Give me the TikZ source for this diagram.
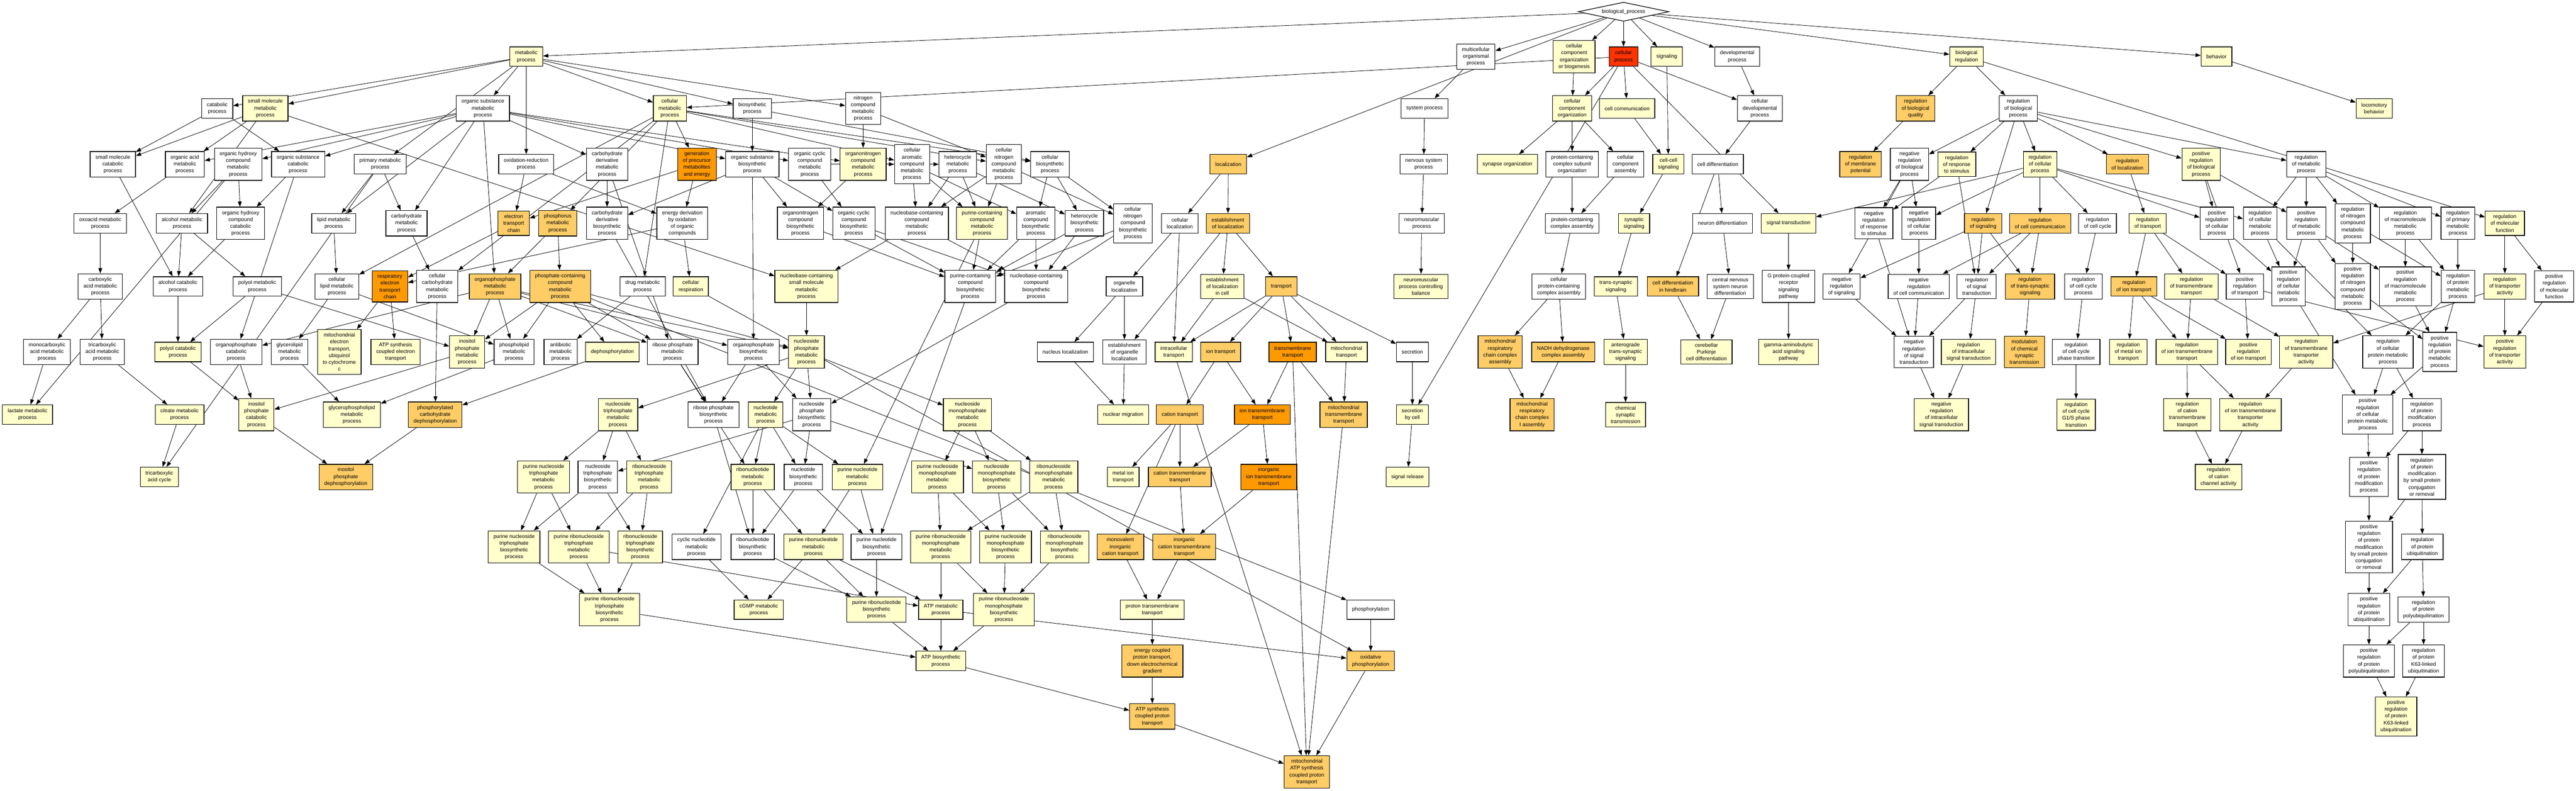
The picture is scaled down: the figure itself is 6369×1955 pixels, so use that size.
\documentclass[tikz,border=0pt]{standalone}
\usepackage{fontspec}
\setmainfont{Liberation Sans}
\usepackage{tikz}
\usetikzlibrary{arrows.meta, shapes.geometric}
\definecolor{GOYellow}{HTML}{FFFFCC}
\definecolor{GOLightOrange}{HTML}{FFCC66}
\definecolor{GOOrange}{HTML}{FF9900}
\definecolor{GORed}{HTML}{FF3300}
\newcommand{\termfont}{\fontsize{3.7pt}{4.8pt}\selectfont}
\tikzstyle{term} = [draw, fill=white, line width=0.45pt, align=center, font=\termfont, inner xsep=3.7pt, inner ysep=2.4pt, minimum height=13.7pt]
\tikzstyle{yel} = [term, fill=GOYellow]
\tikzstyle{lor} = [term, fill=GOLightOrange]
\tikzstyle{ora} = [term, fill=GOOrange]
\tikzstyle{hot} = [term, fill=GORed]
\tikzstyle{root} = [draw, fill=white, line width=0.45pt, shape=diamond, aspect=4.8, inner sep=0pt, minimum width=63.7pt, minimum height=13.4pt, font=\termfont]
\tikzstyle{isa} = [-{Triangle[length=3.7pt,width=2.7pt]}, line width=0.3pt]
\pgfdeclarelayer{background}
\pgfsetlayers{background,main}

\begin{document}
\begin{tikzpicture}[x=0.01cm, y=-0.01cm]
\useasboundingbox (0,0) rectangle (6369,1955);
% level 0 and 1
\node[root] (bp) at (4014,29) {biological\_process};
\node[yel] (met) at (1301,140) {metabolic\\process};
\node[term] (mop) at (3649,140) {multicellular\\organismal\\process};
\node[yel] (ccob) at (3892,140) {cellular\\component\\organization\\or biogenesis};
\node[hot] (cp) at (4014,140) {cellular\\process};
\node[yel] (sig) at (4121,140) {signaling};
\node[term] (dev) at (4295,140) {developmental\\process};
\node[yel] (breg) at (4862,140) {biological\\regulation};
\node[yel] (beh) at (5480,140) {behavior};
% level 2
\node[term] (cat) at (537,268) {catabolic\\process};
\node[yel] (smm) at (656,268) {small molecule\\metabolic\\process};
\node[term] (osm) at (1194,268) {organic substance\\metabolic\\process};
\node[yel] (cm) at (1656,268) {cellular\\metabolic\\process};
\node[term] (bio) at (1860,268) {biosynthetic\\process};
\node[term] (ncm) at (2134,268) {nitrogen\\compound\\metabolic\\process};
\node[term] (sysp) at (3522,268) {system process};
\node[yel] (cco) at (3887,268) {cellular\\component\\organization};
\node[yel] (ccom) at (4023,268) {cell communication};
\node[term] (cdev) at (4351,268) {cellular\\developmental\\process};
\node[lor] (rbq) at (4736,268) {regulation\\of biological\\quality};
\node[term] (rbp) at (4990,268) {regulation\\of biological\\process};
\node[yel] (loco) at (5870,268) {locomotory\\behavior};
% level 3
\node[term] (smc) at (279,406) {small molecule\\catabolic\\process};
\node[term] (oam) at (457,406) {organic acid\\metabolic\\process};
\node[term] (ohm) at (589,406) {organic hydroxy\\compound\\metabolic\\process};
\node[term] (osc) at (737,406) {organic substance\\catabolic\\process};
\node[term] (pm) at (940,406) {primary metabolic\\process};
\node[term] (redox) at (1301,406) {oxidation-reduction\\process};
\node[term] (cdm) at (1501,406) {carbohydrate\\derivative\\metabolic\\process};
\node[ora] (gpme) at (1723,406) {generation\\of precursor\\metabolites\\and energy};
\node[term] (osb) at (1860,406) {organic substance\\biosynthetic\\process};
\node[term] (occm) at (2002,406) {organic cyclic\\compound\\metabolic\\process};
\node[yel] (onm) at (2134,406) {organonitrogen\\compound\\metabolic\\process};
\node[term] (cacm) at (2255,406) {cellular\\aromatic\\compound\\metabolic\\process};
\node[term] (hcm) at (2368,406) {heterocycle\\metabolic\\process};
\node[term] (cncm) at (2482,406) {cellular\\nitrogen\\compound\\metabolic\\process};
\node[term] (cbp) at (2596,406) {cellular\\biosynthetic\\process};
\node[lor] (loc) at (3037,406) {localization};
\node[term] (nsp) at (3520,406) {nervous system\\process};
\node[yel] (synorg) at (3727,406) {synapse organization};
\node[term] (pcso) at (3887,406) {protein-containing\\complex subunit\\organization};
\node[term] (cca) at (4019,406) {cellular\\component\\assembly};
\node[yel] (ccs) at (4125,406) {cell-cell\\signaling};
\node[term] (cdiff) at (4247,406) {cell differentiation};
\node[lor] (rmp) at (4600,406) {regulation\\of membrane\\potential};
\node[term] (nrbp) at (4721,406) {negative\\regulation\\of biological\\process};
\node[yel] (rrs) at (4838,406) {regulation\\of response\\to stimulus};
\node[yel] (rcp) at (5044,406) {regulation\\of cellular\\process};
\node[lor] (rloc) at (5260,406) {regulation\\of localization};
\node[yel] (prbp) at (5442,406) {positive\\regulation\\of biological\\process};
\node[term] (rmet) at (5702,406) {regulation\\of metabolic\\process};
% level 4
\node[term] (oxo) at (248,552) {oxoacid metabolic\\process};
\node[term] (alm) at (450,552) {alcohol metabolic\\process};
\node[term] (ohc) at (595,552) {organic hydroxy\\compound\\catabolic\\process};
\node[term] (lip) at (825,552) {lipid metabolic\\process};
\node[term] (carb) at (1005,552) {carbohydrate\\metabolic\\process};
\node[lor] (etc) at (1270,552) {electron\\transport\\chain};
\node[lor] (phos) at (1379,552) {phosphorus\\metabolic\\process};
\node[term] (cdb) at (1501,552) {carbohydrate\\derivative\\biosynthetic\\process};
\node[term] (edoc) at (1687,552) {energy derivation\\by oxidation\\of organic\\compounds};
\node[term] (onb) at (1979,552) {organonitrogen\\compound\\biosynthetic\\process};
\node[term] (occb) at (2111,552) {organic cyclic\\compound\\biosynthetic\\process};
\node[term] (nbcm) at (2267,552) {nucleobase-containing\\compound\\metabolic\\process};
\node[yel] (pccm) at (2428,552) {purine-containing\\compound\\metabolic\\process};
\node[term] (acb) at (2561,552) {aromatic\\compound\\biosynthetic\\process};
\node[term] (hcb) at (2681,552) {heterocycle\\biosynthetic\\process};
\node[term] (cncb) at (2801,552) {cellular\\nitrogen\\compound\\biosynthetic\\process};
\node[term] (cloc) at (2917,552) {cellular\\localization};
\node[lor] (eloc) at (3036,552) {establishment\\of localization};
\node[term] (nmp) at (3515,552) {neuromuscular\\process};
\node[term] (pcca) at (3887,552) {protein-containing\\complex assembly};
\node[yel] (synsig) at (4040,552) {synaptic\\signaling};
\node[term] (ndiff) at (4259,552) {neuron differentiation};
\node[yel] (st) at (4422,552) {signal transduction};
\node[term] (nrrs) at (4633,552) {negative\\regulation\\of response\\to stimulus};
\node[term] (nrcp) at (4744,552) {negative\\regulation\\of cellular\\process};
\node[lor] (rsig) at (4903,552) {regulation\\of signaling};
\node[lor] (rcc) at (5044,552) {regulation\\of cell communication};
\node[term] (rccy) at (5186,552) {regulation\\of cell cycle};
\node[yel] (rtr) at (5310,552) {regulation\\of transport};
\node[term] (prcp) at (5481,552) {positive\\regulation\\of cellular\\process};
\node[term] (rcmp) at (5588,552) {regulation\\of cellular\\metabolic\\process};
\node[term] (prmp) at (5702,552) {positive\\regulation\\of metabolic\\process};
\node[term] (rncm) at (5817,552) {regulation\\of nitrogen\\compound\\metabolic\\process};
\node[term] (rmmp) at (5947,552) {regulation\\of macromolecule\\metabolic\\process};
\node[term] (rpmp) at (6077,552) {regulation\\of primary\\metabolic\\process};
\node[yel] (rmf) at (6193,552) {regulation\\of molecular\\function};
% level 5
\node[term] (carbox) at (248,708) {carboxylic\\acid metabolic\\process};
\node[term] (alc) at (440,708) {alcohol catabolic\\process};
\node[term] (polm) at (636,708) {polyol metabolic\\process};
\node[term] (clm) at (833,708) {cellular\\lipid metabolic\\process};
\node[ora] (retc) at (964,708) {respiratory\\electron\\transport\\chain};
\node[term] (ccarb) at (1081,708) {cellular\\carbohydrate\\metabolic\\process};
\node[lor] (opm) at (1224,708) {organophosphate\\metabolic\\process};
\node[lor] (pccmp) at (1385,708) {phosphate-containing\\compound\\metabolic\\process};
\node[term] (drug) at (1589,708) {drug metabolic\\process};
\node[yel] (cresp) at (1708,708) {cellular\\respiration};
\node[yel] (nbsm) at (1994,708) {nucleobase-containing\\small molecule\\metabolic\\process};
\node[term] (pccb) at (2399,708) {purine-containing\\compound\\biosynthetic\\process};
\node[term] (nbcb) at (2562,708) {nucleobase-containing\\compound\\biosynthetic\\process};
\node[term] (oloc) at (2780,708) {organelle\\localization};
\node[yel] (elic) at (3022,708) {establishment\\of localization\\in cell};
\node[lor] (trans) at (3168,708) {transport};
\node[yel] (nmpcb) at (3513,708) {neuromuscular\\process controlling\\balance};
\node[term] (cpcca) at (3854,708) {cellular\\protein-containing\\complex assembly};
\node[yel] (tss) at (3995,708) {trans-synaptic\\signaling};
\node[lor] (cdhb) at (4136,708) {cell differentiation\\in hindbrain};
\node[term] (cnsnd) at (4278,708) {central nervous\\system neuron\\differentiation};
\node[term] (gpcr) at (4422,708) {G protein-coupled\\receptor\\signaling\\pathway};
\node[term] (nrsig) at (4553,708) {negative\\regulation\\of signaling};
\node[term] (nrcc) at (4744,708) {negative\\regulation\\of cell communication};
\node[term] (rst) at (4887,708) {regulation\\of signal\\transduction};
\node[lor] (rtss) at (5019,708) {regulation\\of trans-synaptic\\signaling};
\node[term] (rccp) at (5151,708) {regulation\\of cell cycle\\process};
\node[lor] (rit) at (5276,708) {regulation\\of ion transport};
\node[yel] (rtmt) at (5418,708) {regulation\\of transmembrane\\transport};
\node[term] (prt) at (5550,708) {positive\\regulation\\of transport};
\node[term] (prcmp) at (5658,708) {positive\\regulation\\of cellular\\metabolic\\process};
\node[term] (prncm) at (5817,708) {positive\\regulation\\of nitrogen\\compound\\metabolic\\process};
\node[term] (prmmp) at (5947,708) {positive\\regulation\\of macromolecule\\metabolic\\process};
\node[term] (rpm) at (6077,708) {regulation\\of protein\\metabolic\\process};
\node[yel] (rta) at (6193,708) {regulation\\of transporter\\activity};
\node[term] (prmf) at (6315,708) {positive\\regulation\\of molecular\\function};
% level 6
\node[term] (mono) at (116,870) {monocarboxylic\\acid metabolic\\process};
\node[term] (tri) at (253,870) {tricarboxylic\\acid metabolic\\process};
\node[yel] (polc) at (440,870) {polyol catabolic\\process};
\node[term] (opc) at (584,870) {organophosphate\\catabolic\\process};
\node[term] (glm) at (716,870) {glycerolipid\\metabolic\\process};
\node[yel] (metc) at (839,870) {mitochondrial\\electron\\transport,\\ubiquinol\\to cytochrome\\c};
\node[yel] (atpet) at (978,870) {ATP synthesis\\coupled electron\\transport};
\node[yel] (ipm) at (1155,870) {inositol\\phosphate\\metabolic\\process};
\node[term] (plm) at (1271,870) {phospholipid\\metabolic\\process};
\node[term] (abm) at (1386,870) {antibiotic\\metabolic\\process};
\node[yel] (dephos) at (1514,870) {dephosphorylation};
\node[term] (rpmet) at (1663,870) {ribose phosphate\\metabolic\\process};
\node[term] (opb) at (1863,870) {organophosphate\\biosynthetic\\process};
\node[yel] (npm) at (1994,870) {nucleoside\\phosphate\\metabolic\\process};
\node[term] (nucloc) at (2634,870) {nucleus localization};
\node[term] (eol) at (2780,870) {establishment\\of organelle\\localization};
\node[yel] (ict) at (2902,870) {intracellular\\transport};
\node[lor] (iont) at (3018,870) {ion transport};
\node[ora] (tmt) at (3196,870) {transmembrane\\transport};
\node[yel] (mitt) at (3329,870) {mitochondrial\\transport};
\node[term] (secr) at (3492,870) {secretion};
\node[lor] (mrcca) at (3709,870) {mitochondrial\\respiratory\\chain complex\\assembly};
\node[lor] (nadh) at (3865,870) {NADH dehydrogenase\\complex assembly};
\node[yel] (ats) at (4019,870) {anterograde\\trans-synaptic\\signaling};
\node[yel] (cpcd) at (4219,870) {cerebellar\\Purkinje\\cell differentiation};
\node[yel] (gaba) at (4422,870) {gamma-aminobutyric\\acid signaling\\pathway};
\node[term] (nrst) at (4732,870) {negative\\regulation\\of signal\\transduction};
\node[yel] (rist) at (4867,870) {regulation\\of intracellular\\signal transduction};
\node[lor] (mcst) at (5005,870) {modulation\\of chemical\\synaptic\\transmission};
\node[term] (rccpt) at (5133,870) {regulation\\of cell cycle\\phase transition};
\node[yel] (rmit) at (5262,870) {regulation\\of metal ion\\transport};
\node[yel] (rimt) at (5407,870) {regulation\\of ion transmembrane\\transport};
\node[yel] (prit) at (5559,870) {positive\\regulation\\of ion transport};
\node[yel] (rtta) at (5702,870) {regulation\\of transmembrane\\transporter\\activity};
\node[term] (rcpm) at (5904,870) {regulation\\of cellular\\protein metabolic\\process};
\node[term] (prpm) at (6032,870) {positive\\regulation\\of protein\\metabolic\\process};
\node[yel] (prta) at (6193,870) {positive\\regulation\\of transporter\\activity};
% level 7
\node[yel] (lact) at (68,1025) {lactate metabolic\\process};
\node[yel] (citr) at (444,1025) {citrate metabolic\\process};
\node[yel] (ipc) at (634,1025) {inositol\\phosphate\\catabolic\\process};
\node[yel] (gplm) at (870,1025) {glycerophospholipid\\metabolic\\process};
\node[lor] (pcd) at (1076,1025) {phosphorylated\\carbohydrate\\dephosphorylation};
\node[yel] (ntpm) at (1528,1025) {nucleoside\\triphosphate\\metabolic\\process};
\node[term] (rpb) at (1764,1025) {ribose phosphate\\biosynthetic\\process};
\node[yel] (ntm) at (1893,1025) {nucleotide\\metabolic\\process};
\node[term] (npb) at (2007,1025) {nucleoside\\phosphate\\biosynthetic\\process};
\node[yel] (nmpm) at (2392,1025) {nucleoside\\monophosphate\\metabolic\\process};
\node[yel] (nmig) at (2777,1025) {nuclear migration};
\node[lor] (catt) at (2917,1025) {cation transport};
\node[ora] (itmt) at (3121,1025) {ion transmembrane\\transport};
\node[lor] (mtmt) at (3322,1025) {mitochondrial\\transmembrane\\transport};
\node[yel] (sbc) at (3492,1025) {secretion\\by cell};
\node[lor] (mrcc1) at (3788,1025) {mitochondrial\\respiratory\\chain complex\\I assembly};
\node[yel] (cst) at (4019,1025) {chemical\\synaptic\\transmission};
\node[yel] (nrist) at (4800,1025) {negative\\regulation\\of intracellular\\signal transduction};
\node[yel] (g1s) at (5133,1025) {regulation\\of cell cycle\\G1/S phase\\transition};
\node[yel] (rctt) at (5408,1025) {regulation\\of cation\\transmembrane\\transport};
\node[yel] (rittA) at (5564,1025) {regulation\\of ion transmembrane\\transporter\\activity};
\node[term] (prcpm) at (5854,1025) {positive\\regulation\\of cellular\\protein metabolic\\process};
\node[term] (rpmod) at (5988,1025) {regulation\\of protein\\modification\\process};
% level 8
\node[yel] (tca) at (394,1179) {tricarboxylic\\acid cycle};
\node[lor] (ipd) at (855,1179) {inositol\\phosphate\\dephosphorylation};
\node[yel] (pntpm) at (1344,1179) {purine nucleoside\\triphosphate\\metabolic\\process};
\node[term] (ntpb) at (1478,1179) {nucleoside\\triphosphate\\biosynthetic\\process};
\node[yel] (rntpm) at (1605,1179) {ribonucleoside\\triphosphate\\metabolic\\process};
\node[yel] (rnm) at (1861,1179) {ribonucleotide\\metabolic\\process};
\node[term] (ntb) at (1986,1179) {nucleotide\\biosynthetic\\process};
\node[yel] (pnm) at (2120,1179) {purine nucleotide\\metabolic\\process};
\node[yel] (pnmpm) at (2318,1179) {purine nucleoside\\monophosphate\\metabolic\\process};
\node[yel] (nmpb) at (2464,1179) {nucleoside\\monophosphate\\biosynthetic\\process};
\node[yel] (rnmpm) at (2605,1179) {ribonucleoside\\monophosphate\\metabolic\\process};
\node[yel] (mit) at (2777,1179) {metal ion\\transport};
\node[lor] (cattm) at (2917,1179) {cation transmembrane\\transport};
\node[ora] (iitmt) at (3137,1179) {inorganic\\ion transmembrane\\transport};
\node[yel] (sigrel) at (3480,1179) {signal release};
\node[yel] (rcca) at (5485,1179) {regulation\\of cation\\channel activity};
\node[term] (prpmod) at (5857,1179) {positive\\regulation\\of protein\\modification\\process};
\node[term] (rpmsp) at (5988,1179) {regulation\\of protein\\modification\\by small protein\\conjugation\\or removal};
% level 9
\node[yel] (pntpb) at (1271,1352) {purine nucleoside\\triphosphate\\biosynthetic\\process};
\node[yel] (prntpm) at (1431,1352) {purine ribonucleoside\\triphosphate\\metabolic\\process};
\node[yel] (rntpb) at (1583,1352) {ribonucleoside\\triphosphate\\biosynthetic\\process};
\node[term] (cnm) at (1722,1352) {cyclic nucleotide\\metabolic\\process};
\node[term] (rnb) at (1861,1352) {ribonucleotide\\biosynthetic\\process};
\node[yel] (prnm) at (2011,1352) {purine ribonucleotide\\metabolic\\process};
\node[term] (pnb) at (2167,1352) {purine nucleotide\\biosynthetic\\process};
\node[yel] (prnmpm) at (2326,1352) {purine ribonucleoside\\monophosphate\\metabolic\\process};
\node[yel] (pnmpb) at (2486,1352) {purine nucleoside\\monophosphate\\biosynthetic\\process};
\node[yel] (rnmpb) at (2632,1352) {ribonucleoside\\monophosphate\\biosynthetic\\process};
\node[lor] (mict) at (2770,1352) {monovalent\\inorganic\\cation transport};
\node[lor] (ictm) at (2928,1352) {inorganic\\cation transmembrane\\transport};
\node[term] (prpmsp) at (5857,1352) {positive\\regulation\\of protein\\modification\\by small protein\\conjugation\\or removal};
\node[term] (rpu) at (5989,1352) {regulation\\of protein\\ubiquitination};
% level 10
\node[yel] (prntpb) at (1507,1507) {purine ribonucleoside\\triphosphate\\biosynthetic\\process};
\node[yel] (cgmp) at (1876,1507) {cGMP metabolic\\process};
\node[yel] (prnb) at (2167,1507) {purine ribonucleotide\\biosynthetic\\process};
\node[yel] (atpm) at (2326,1507) {ATP metabolic\\process};
\node[yel] (prnmpb) at (2482,1507) {purine ribonucleoside\\monophosphate\\biosynthetic\\process};
\node[yel] (ptmt) at (2849,1507) {proton transmembrane\\transport};
\node[term] (phosph) at (3389,1507) {phosphorylation};
\node[term] (prpu) at (5857,1507) {positive\\regulation\\of protein\\ubiquitination};
\node[term] (rppu) at (5992,1507) {regulation\\of protein\\polyubiquitination};
% level 11 to 13
\node[yel] (atpb) at (2326,1634) {ATP biosynthetic\\process};
\node[lor] (ecpt) at (2849,1634) {energy coupled\\proton transport,\\down electrochemical\\gradient};
\node[lor] (oxphos) at (3389,1634) {oxidative\\phosphorylation};
\node[term] (prppu) at (5857,1634) {positive\\regulation\\of protein\\polyubiquitination};
\node[term] (rk63) at (5992,1634) {regulation\\of protein\\K63-linked\\ubiquitination};
\node[lor] (atpspt) at (2849,1771) {ATP synthesis\\coupled proton\\transport};
\node[yel] (prk63) at (5924,1771) {positive\\regulation\\of protein\\K63-linked\\ubiquitination};
\node[lor] (matp) at (3231,1908) {mitochondrial\\ATP synthesis\\coupled proton\\transport};

\begin{pgfonlayer}{background}
\path[isa] (bp) edge (met) edge (mop) edge (ccob) edge (cp) edge (sig) edge (dev) edge (breg) edge (beh) edge (loc);
\path[isa] (met) edge (cat) edge (smm) edge (osm) edge (cm) edge (bio) edge (ncm) edge (pm) edge (redox);
\path[isa] (cp) edge (cm) edge (cco) edge (ccom) edge (cdev) edge (st) edge (sbc);
\path[isa] (ccob) edge (cco);
\path[isa] (mop) edge (sysp);
\path[isa] (sig) edge (ccs);
\path[isa] (dev) edge (cdev);
\path[isa] (breg) edge (rbq) edge (rbp) edge (rmf);
\path[isa] (beh) edge (loco);
\path[isa] (cat) edge (smc) edge (osc);
\path[isa] (smm) edge (smc) edge (oam) edge (alm) edge (nbsm);
\path[isa] (osm) edge (oam) edge (ohm) edge (osc) edge (lip) edge (carb) edge (cdm) edge (osb) edge (occm) edge (onm) edge (opm);
\path[isa] (cm) edge (gpme) edge (phos) edge (drug) edge (cacm) edge (cncm) edge (cbp) edge (clm) edge (ccarb);
\path[isa] (bio) edge (osb) edge (cbp);
\path[isa] (ncm) edge (onm) edge (cncm);
\path[isa] (sysp) edge (nsp);
\path[isa] (cco) edge (synorg) edge (pcso) edge (cca);
\path[isa] (ccom) edge (ccs);
\path[isa] (cdev) edge (cdiff);
\path[isa] (rbq) edge (rmp);
\path[isa] (rbp) edge (nrbp) edge (rrs) edge (rcp) edge (rloc) edge (prbp) edge (rmet) edge (rsig);
\path[isa] (smc) edge (alc);
\path[isa] (oam) edge (oxo);
\path[isa] (ohm) edge (alm) edge (ohc) edge (lact);
\path[isa] (osc) edge (ohc) edge (opc);
\path[isa] (pm) edge (lip) edge (carb) edge (tca);
\path[isa] (redox) edge (etc) edge (edoc);
\path[isa] (cdm) edge (cdb) edge (rpmet);
\path[isa] (gpme) edge (etc) edge (edoc);
\path[isa] (osb) edge (cdb) edge (onb) edge (occb) edge (opb);
\path[isa] (occm) edge (occb) edge (hcm) edge (cacm);
\path[isa] (onm) edge (onb);
\path[isa] (cacm) edge (nbcm) edge (pccm) edge (acb);
\path[isa] (hcm) edge (nbcm) edge (pccm) edge (hcb);
\path[isa] (cncm) edge (nbcm) edge (pccm) edge (cncb);
\path[isa] (cbp) edge (acb) edge (hcb) edge (cncb);
\path[isa] (loc) edge (cloc) edge (eloc);
\path[isa] (nsp) edge (nmp);
\path[isa] (pcso) edge (pcca);
\path[isa] (cca) edge (pcca);
\path[isa] (ccs) edge (synsig);
\path[isa] (cdiff) edge (ndiff) edge (cdhb);
\path[isa] (nrbp) edge (nrrs) edge (nrcp) edge (nrsig);
\path[isa] (rrs) edge (nrrs) edge (rst);
\path[isa] (rcp) edge (st) edge (nrcp) edge (rcc) edge (rccy) edge (prcp) edge (rcmp);
\path[isa] (rloc) edge (rtr);
\path[isa] (prbp) edge (prcp) edge (prmp) edge (prt);
\path[isa] (rmet) edge (rcmp) edge (prmp) edge (rncm) edge (rmmp) edge (rpmp);
\path[isa] (oxo) edge (carbox);
\path[isa] (alm) edge (alc) edge (polm);
\path[isa] (ohc) edge (alc);
\path[isa] (lip) edge (clm);
\path[isa] (carb) edge (ccarb);
\path[isa] (etc) edge (retc);
\path[isa] (phos) edge (opm) edge (pccmp);
\path[isa] (cdb) edge (rpb);
\path[isa] (edoc) edge (cresp) edge (retc);
\path[isa] (onb) edge (pccb);
\path[isa] (occb) edge (pccb) edge (nbcb);
\path[isa] (nbcm) edge (nbsm) edge (nbcb);
\path[isa] (pccm) edge (pccb) edge (pnm);
\path[isa] (acb) edge (pccb) edge (nbcb);
\path[isa] (hcb) edge (pccb) edge (nbcb);
\path[isa] (cncb) edge (pccb) edge (nbcb);
\path[isa] (cloc) edge (oloc) edge (ict);
\path[isa] (eloc) edge (elic) edge (trans) edge (eol);
\path[isa] (nmp) edge (nmpcb);
\path[isa] (pcca) edge (cpcca);
\path[isa] (synsig) edge (tss);
\path[isa] (ndiff) edge (cnsnd);
\path[isa] (st) edge (gpcr);
\path[isa] (nrrs) edge (nrst);
\path[isa] (nrcp) edge (nrcc);
\path[isa] (rsig) edge (nrsig) edge (rst) edge (rtss);
\path[isa] (rcc) edge (nrcc) edge (rst) edge (rtss);
\path[isa] (rccy) edge (rccp);
\path[isa] (rtr) edge (rit) edge (rtmt) edge (prt);
\path[isa] (prcp) edge (prcmp);
\path[isa] (rcmp) edge (prcmp) edge (rcpm);
\path[isa] (prmp) edge (prcmp) edge (prncm) edge (prmmp);
\path[isa] (rncm) edge (prncm) edge (rpm);
\path[isa] (rmmp) edge (prmmp) edge (rpm);
\path[isa] (rpmp) edge (rpm);
\path[isa] (rmf) edge (rta) edge (prmf);
\path[isa] (carbox) edge (mono) edge (tri);
\path[isa] (alc) edge (polc);
\path[isa] (polm) edge (polc) edge (ipm);
\path[isa] (clm) edge (glm) edge (plm);
\path[isa] (retc) edge (metc) edge (atpet);
\path[isa] (ccarb) edge (pcd);
\path[isa] (opm) edge (opc) edge (ipm) edge (plm) edge (rpmet) edge (opb) edge (npm);
\path[isa] (pccmp) edge (dephos) edge (ipm) edge (plm) edge (rpmet) edge (npm) edge (phosph);
\path[isa] (drug) edge (abm);
\path[isa] (cresp) edge (oxphos);
\path[isa] (nbsm) edge (npm);
\path[isa] (pccb) edge (pnb);
\path[isa] (nbcb) edge (npb);
\path[isa] (oloc) edge (nucloc) edge (eol);
\path[isa] (elic) edge (ict) edge (mitt);
\path[isa] (trans) edge (ict) edge (iont) edge (tmt) edge (mitt) edge (secr);
\path[isa] (cpcca) edge (mrcca) edge (nadh);
\path[isa] (tss) edge (ats);
\path[isa] (cdhb) edge (cpcd);
\path[isa] (cnsnd) edge (cpcd);
\path[isa] (gpcr) edge (gaba);
\path[isa] (nrsig) edge (nrst);
\path[isa] (nrcc) edge (nrst);
\path[isa] (rst) edge (nrst) edge (rist);
\path[isa] (rtss) edge (mcst);
\path[isa] (rccp) edge (rccpt);
\path[isa] (rit) edge (rmit) edge (rimt) edge (prit);
\path[isa] (rtmt) edge (rimt) edge (rtta);
\path[isa] (prt) edge (prit) edge (prta);
\path[isa] (rpm) edge (rcpm) edge (prpm);
\path[isa] (prncm) edge (prpm);
\path[isa] (prmmp) edge (prpm);
\path[isa] (prcmp) edge (prcpm);
\path[isa] (rta) edge (rtta) edge (prta);
\path[isa] (prmf) edge (prta);
\path[isa] (mono) edge (lact);
\path[isa] (tri) edge (citr);
\path[isa] (polc) edge (ipc);
\path[isa] (opc) edge (ipc);
\path[isa] (ipm) edge (ipc);
\path[isa] (glm) edge (gplm);
\path[isa] (plm) edge (gplm);
\path[isa] (dephos) edge (pcd);
\path[isa] (rpmet) edge (rpb) edge (rnm);
\path[isa] (opb) edge (rpb) edge (npb);
\path[isa] (npm) edge (ntpm) edge (ntm) edge (npb) edge (nmpm);
\path[isa] (nucloc) edge (nmig);
\path[isa] (eol) edge (nmig);
\path[isa] (iont) edge (catt) edge (itmt);
\path[isa] (tmt) edge (itmt) edge (mtmt) edge (matp);
\path[isa] (ict) edge (matp);
\path[isa] (mitt) edge (mtmt);
\path[isa] (secr) edge (sbc);
\path[isa] (mrcca) edge (mrcc1);
\path[isa] (nadh) edge (mrcc1);
\path[isa] (ats) edge (cst);
\path[isa] (nrst) edge (nrist);
\path[isa] (rist) edge (nrist);
\path[isa] (rccpt) edge (g1s);
\path[isa] (rimt) edge (rctt) edge (rittA);
\path[isa] (rtta) edge (rittA);
\path[isa] (rcpm) edge (prcpm) edge (rpmod);
\path[isa] (prpm) edge (prcpm);
\path[isa] (citr) edge (tca);
\path[isa] (ipc) edge (ipd);
\path[isa] (pcd) edge (ipd);
\path[isa] (ntpm) edge (pntpm) edge (ntpb) edge (rntpm);
\path[isa] (ntm) edge (rnm) edge (ntb) edge (pnm) edge (cnm);
\path[isa] (npb) edge (ntpb) edge (ntb) edge (nmpb);
\path[isa] (nmpm) edge (pnmpm) edge (nmpb) edge (rnmpm);
\path[isa] (catt) edge (mit) edge (cattm) edge (mict);
\path[isa] (itmt) edge (cattm) edge (iitmt);
\path[isa] (mtmt) edge (matp);
\path[isa] (sbc) edge (sigrel);
\path[isa] (rctt) edge (rcca);
\path[isa] (rittA) edge (rcca);
\path[isa] (prcpm) edge (prpmod);
\path[isa] (rpmod) edge (prpmod) edge (rpmsp);
\path[isa] (pntpm) edge (pntpb) edge (prntpm);
\path[isa] (ntpb) edge (pntpb) edge (rntpb);
\path[isa] (rntpm) edge (prntpm) edge (rntpb);
\path[isa] (rnm) edge (rnb) edge (prnm);
\path[isa] (ntb) edge (rnb) edge (pnb);
\path[isa] (pnm) edge (prnm) edge (pnb);
\path[isa] (rpb) edge (rnb);
\path[isa] (pnmpm) edge (prnmpm) edge (pnmpb);
\path[isa] (nmpb) edge (pnmpb) edge (rnmpb);
\path[isa] (rnmpm) edge (prnmpm) edge (rnmpb);
\path[isa] (cattm) edge (ictm);
\path[isa] (iitmt) edge (ictm);
\path[isa] (prpmod) edge (prpmsp);
\path[isa] (rpmsp) edge (prpmsp) edge (rpu);
\path[isa] (pntpb) edge (prntpb);
\path[isa] (prntpm) edge (prntpb) edge (atpm);
\path[isa] (rntpb) edge (prntpb);
\path[isa] (cnm) edge (cgmp);
\path[isa] (prnm) edge (cgmp) edge (prnb) edge (atpm);
\path[isa] (pnb) edge (prnb);
\path[isa] (rnb) edge (prnb);
\path[isa] (prnmpm) edge (atpm) edge (prnmpb);
\path[isa] (pnmpb) edge (prnmpb);
\path[isa] (rnmpb) edge (prnmpb);
\path[isa] (mict) edge (ptmt);
\path[isa] (ictm) edge (ptmt);
\path[isa] (prpmsp) edge (prpu);
\path[isa] (rpu) edge (prpu) edge (rppu);
\path[isa] (prntpb) edge (atpb);
\path[isa] (prnb) edge (atpb);
\path[isa] (atpm) edge (atpb) edge (oxphos);
\path[isa] (prnmpb) edge (atpb);
\path[isa] (ptmt) edge (ecpt);
\path[isa] (phosph) edge (oxphos);
\path[isa] (prpu) edge (prppu);
\path[isa] (rppu) edge (prppu) edge (rk63);
\path[isa] (atpb) edge (atpspt);
\path[isa] (ecpt) edge (atpspt);
\path[isa] (oxphos) edge (matp);
\path[isa] (prppu) edge (prk63);
\path[isa] (rk63) edge (prk63);
\path[isa] (atpspt) edge (matp);
\end{pgfonlayer}
\end{tikzpicture}
\end{document}
